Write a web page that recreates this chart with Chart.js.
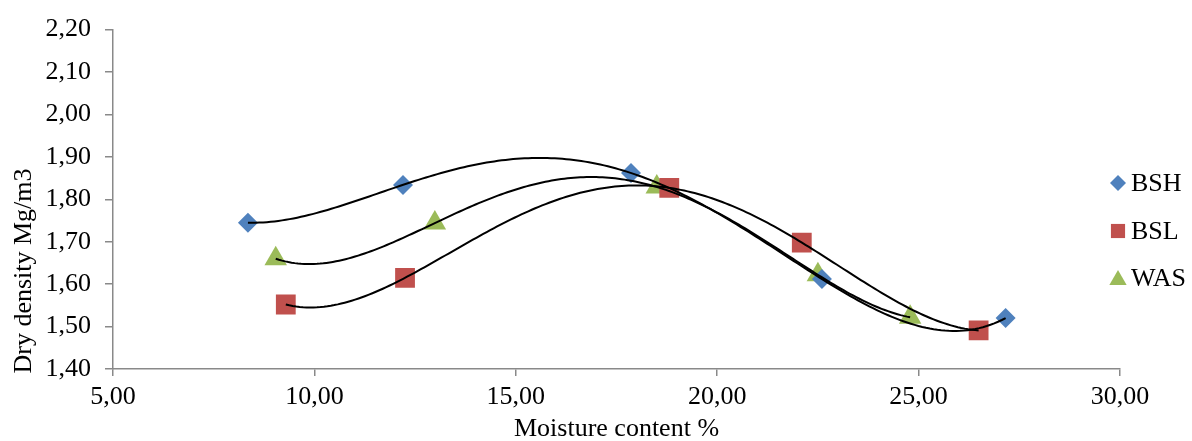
<!DOCTYPE html>
<html><head><meta charset="utf-8">
<script src="https://cdn.jsdelivr.net/npm/chart.js@4.4.1/dist/chart.umd.min.js"></script>
<style>html,body{margin:0;padding:0;background:#fff;}#wrap{width:1192px;height:441px;}</style>
</head><body><div id="wrap"><canvas id="c" width="1192" height="441"></canvas></div>
<script>
const seriesNames = ['BSH', 'BSL', 'WAS'];
const bshX = [8.35, 12.20, 17.86, 22.60, 27.16];
const bshY = [1.745, 1.834, 1.862, 1.612, 1.520];
const bslX = [9.29, 12.25, 18.81, 22.10, 26.49];
const bslY = [1.552, 1.615, 1.827, 1.698, 1.491];
const wasX = [9.04, 12.99, 18.50, 22.50, 24.79];
const wasY = [1.660, 1.744, 1.829, 1.622, 1.522];
const xTitle = 'Moisture content %';
const yTitle = 'Dry density Mg/m3';
const colors = ['#4F81BD', '#C0504D', '#9BBB59'];
const styles = ['rectRot', 'rect', 'triangle'];
const radii = [10, 14, 13];
const trendOrder = 4;

const FONT = '"Liberation Serif", "Times New Roman", serif';
const fmt = v => Number(v).toFixed(2).replace('.', ',');

function polyfit(xs, ys, deg) {
  const n = deg + 1;
  const xm = xs.reduce((a, b) => a + b, 0) / xs.length;
  const A = [], b = [];
  for (let i = 0; i < n; i++) {
    A.push(new Array(n).fill(0)); b.push(0);
  }
  xs.forEach((x0, k) => {
    const x = x0 - xm;
    for (let i = 0; i < n; i++) {
      for (let j = 0; j < n; j++) A[i][j] += Math.pow(x, i + j);
      b[i] += ys[k] * Math.pow(x, i);
    }
  });
  for (let i = 0; i < n; i++) {
    let p = i;
    for (let r = i + 1; r < n; r++) if (Math.abs(A[r][i]) > Math.abs(A[p][i])) p = r;
    [A[i], A[p]] = [A[p], A[i]]; [b[i], b[p]] = [b[p], b[i]];
    for (let r = i + 1; r < n; r++) {
      const f = A[r][i] / A[i][i];
      for (let c = i; c < n; c++) A[r][c] -= f * A[i][c];
      b[r] -= f * b[i];
    }
  }
  const coef = new Array(n).fill(0);
  for (let i = n - 1; i >= 0; i--) {
    let s = b[i];
    for (let c = i + 1; c < n; c++) s -= A[i][c] * coef[c];
    coef[i] = s / A[i][i];
  }
  return x => coef.reduce((s, c, i) => s + c * Math.pow(x - xm, i), 0);
}

function trend(xs, ys) {
  const f = polyfit(xs, ys, trendOrder);
  const pts = [];
  const N = 200;
  for (let i = 0; i <= N; i++) {
    const x = xs[0] + (xs[xs.length - 1] - xs[0]) * i / N;
    pts.push({x: x, y: f(x)});
  }
  return pts;
}

const seriesX = [bshX, bslX, wasX];
const seriesY = [bshY, bslY, wasY];
const datasets = [];
seriesNames.forEach((name, i) => {
  datasets.push({
    label: name,
    data: seriesX[i].map((x, k) => ({x: x, y: seriesY[i][k]})),
    backgroundColor: colors[i], borderColor: colors[i], borderWidth: 0,
    pointStyle: styles[i], pointRadius: radii[i], pointHoverRadius: radii[i],
    showLine: false, order: 2
  });
});
seriesNames.forEach((name, i) => {
  datasets.push({
    label: name + ' trend',
    data: trend(seriesX[i], seriesY[i]),
    borderColor: '#000', borderWidth: 2, pointRadius: 0, showLine: true,
    fill: false, tension: 0, order: 1
  });
});

const decor = {
  id: 'decor',
  afterDraw(chart) {
    const ctx = chart.ctx;
    const ca = chart.chartArea;
    ctx.save();
    ctx.fillStyle = '#000';
    ctx.font = '26px ' + FONT;
    ctx.textAlign = 'center';
    ctx.textBaseline = 'middle';
    ctx.fillText(xTitle, (ca.left + ca.right) / 2, 429);
    ctx.save();
    ctx.translate(24, 271);
    ctx.rotate(-Math.PI / 2);
    ctx.fillText(yTitle, 0, 0);
    ctx.restore();
    const ys = [183, 231, 278];
    seriesNames.forEach((name, i) => {
      const o = {pointStyle: styles[i], radius: [8, 10, 10][i], rotation: 0, borderWidth: 0};
      ctx.fillStyle = colors[i];
      ctx.strokeStyle = colors[i];
      const cy = styles[i] === 'triangle' ? ys[i] + 2 : ys[i];
      if (Chart.helpers && Chart.helpers.drawPoint) {
        Chart.helpers.drawPoint(ctx, o, 1118, cy);
      }
      ctx.fillStyle = '#000';
      ctx.textAlign = 'left';
      ctx.fillText(name, 1131, ys[i] + 1);
    });
    ctx.restore();
  }
};

new Chart(document.getElementById('c'), {
  type: 'scatter',
  data: {datasets: datasets},
  plugins: [decor],
  options: {
    responsive: false, animation: false,
    layout: {padding: {left: 0, right: 72, top: 26, bottom: 0}},
    plugins: {legend: {display: false}, tooltip: {enabled: false}},
    scales: {
      x: {
        type: 'linear', min: 5, max: 30,
        ticks: {stepSize: 5, callback: fmt, color: '#000', font: {family: FONT, size: 26}, padding: 6, maxRotation: 0, autoSkip: false},
        grid: {drawOnChartArea: false, drawTicks: true, tickLength: 7, color: '#898989', lineWidth: 1.5},
        border: {display: true, color: '#898989', width: 1.5},
        afterFit: s => { s.height = 72; }
      },
      y: {
        type: 'linear', min: 1.4, max: 2.2,
        ticks: {stepSize: 0.1, callback: fmt, color: '#000', font: {family: FONT, size: 26}, padding: 14},
        grid: {drawOnChartArea: false, drawTicks: true, tickLength: 8, color: '#898989', lineWidth: 1.5},
        border: {display: true, color: '#898989', width: 1.5},
        afterFit: s => { s.width = 113; }
      }
    }
  }
});
</script></body></html>
